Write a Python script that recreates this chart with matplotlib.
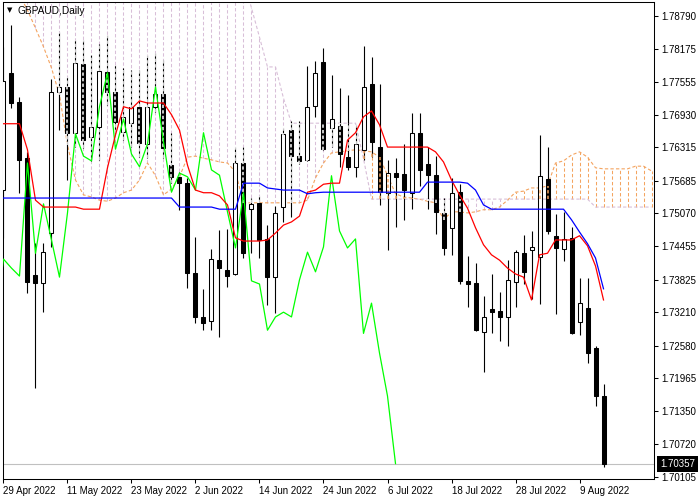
import matplotlib
matplotlib.use('Agg')
import matplotlib.pyplot as plt
import numpy as np

plt.rcParams['font.family'] = ['Liberation Sans', 'DejaVu Sans']
plt.rcParams['lines.scale_dashes'] = False

# GBPAUD daily, 29 Apr 2022 .. 12 Aug 2022 (one entry per trading day)
opens = [1.7551, 1.7772, 1.7717, 1.7611, 1.7391, 1.7376, 1.7470, 1.7736, 1.7745, 1.7659,
         1.7789, 1.7651, 1.7670, 1.7773, 1.7736, 1.7660, 1.7677, 1.7708, 1.7638, 1.7708,
         1.7732, 1.7598, 1.7576, 1.7564, 1.7395, 1.7312, 1.7304, 1.7419, 1.7400, 1.7393,
         1.7602, 1.7515, 1.7527, 1.7459, 1.7387, 1.7519, 1.7664, 1.7615, 1.7608, 1.7709,
         1.7792, 1.7668, 1.7672, 1.7613, 1.7595, 1.7627, 1.7751, 1.7632, 1.7546, 1.7583,
         1.7581, 1.7546, 1.7659, 1.7600, 1.7579, 1.7508, 1.7480, 1.7547, 1.7380, 1.7376,
         1.7283, 1.7327, 1.7323, 1.7312, 1.7378, 1.7432, 1.7438, 1.7425, 1.7572, 1.7465,
         1.7440, 1.7461, 1.7302, 1.7329, 1.7254, 1.7163]
highs = [1.7821, 1.7862, 1.7726, 1.7623, 1.7451, 1.7451, 1.7760, 1.7849, 1.7764, 1.7834,
         1.7834, 1.7806, 1.7826, 1.7843, 1.7787, 1.7781, 1.7777, 1.7777, 1.7806, 1.7809,
         1.7796, 1.7659, 1.7585, 1.7574, 1.7463, 1.7365, 1.7440, 1.7476, 1.7478, 1.7632,
         1.7632, 1.7536, 1.7540, 1.7485, 1.7521, 1.7668, 1.7681, 1.7681, 1.7785, 1.7794,
         1.7819, 1.7768, 1.7743, 1.7730, 1.7674, 1.7822, 1.7802, 1.7751, 1.7608, 1.7611,
         1.7638, 1.7696, 1.7696, 1.7632, 1.7615, 1.7536, 1.7574, 1.7562, 1.7427, 1.7414,
         1.7352, 1.7393, 1.7359, 1.7419, 1.7438, 1.7466, 1.7474, 1.7655, 1.7632, 1.7506,
         1.7510, 1.7481, 1.7385, 1.7385, 1.7257, 1.7186]
lows = [1.7461, 1.7706, 1.7546, 1.7357, 1.7178, 1.7321, 1.7444, 1.7664, 1.7570, 1.7632,
        1.7630, 1.7606, 1.7608, 1.7711, 1.7659, 1.7645, 1.7632, 1.7613, 1.7611, 1.7698,
        1.7611, 1.7564, 1.7514, 1.7367, 1.7301, 1.7287, 1.7287, 1.7274, 1.7368, 1.7391,
        1.7423, 1.7432, 1.7423, 1.7335, 1.7319, 1.7491, 1.7500, 1.7600, 1.7606, 1.7689,
        1.7627, 1.7632, 1.7595, 1.7589, 1.7576, 1.7608, 1.7613, 1.7523, 1.7438, 1.7481,
        1.7495, 1.7515, 1.7559, 1.7515, 1.7468, 1.7429, 1.7429, 1.7374, 1.7331, 1.7285,
        1.7208, 1.7282, 1.7267, 1.7257, 1.7331, 1.7374, 1.7346, 1.7336, 1.7468, 1.7318,
        1.7417, 1.7280, 1.7278, 1.7225, 1.7144, 1.7029]
closes = [1.7757, 1.7715, 1.7608, 1.7378, 1.7376, 1.7434, 1.7736, 1.7745, 1.7659, 1.7790,
          1.7645, 1.7670, 1.7775, 1.7736, 1.7679, 1.7689, 1.7708, 1.7640, 1.7708, 1.7732,
          1.7630, 1.7576, 1.7564, 1.7395, 1.7312, 1.7301, 1.7421, 1.7404, 1.7389, 1.7602,
          1.7432, 1.7525, 1.7457, 1.7387, 1.7508, 1.7657, 1.7615, 1.7606, 1.7708, 1.7772,
          1.7628, 1.7685, 1.7619, 1.7595, 1.7638, 1.7745, 1.7642, 1.7547, 1.7583, 1.7576,
          1.7551, 1.7659, 1.7589, 1.7579, 1.7510, 1.7442, 1.7546, 1.7380, 1.7374, 1.7287,
          1.7312, 1.7321, 1.7312, 1.7382, 1.7434, 1.7397, 1.7444, 1.7578, 1.7474, 1.7442,
          1.7459, 1.7281, 1.7338, 1.7244, 1.7163, 1.70357]

tenkan = [1.7676, 1.7676, 1.7676, 1.7627, 1.7532, 1.7519, 1.7519, 1.7519, 1.7519, 1.7519,
          1.7515, 1.7515, 1.7515, 1.7593, 1.7655, 1.7708, 1.7704, 1.7719, 1.7715, 1.7715,
          1.7715, 1.7693, 1.7664, 1.7598, 1.7551, 1.7546, 1.7546, 1.7540, 1.7523, 1.7461,
          1.7455, 1.7455, 1.7455, 1.7457, 1.7470, 1.7485, 1.7491, 1.7502, 1.7547, 1.7551,
          1.7562, 1.7564, 1.7564, 1.7645, 1.7659, 1.7689, 1.7700, 1.7674, 1.7632, 1.7632,
          1.7632, 1.7632, 1.7632, 1.7632, 1.7623, 1.7604, 1.7570, 1.7542, 1.7517, 1.7480,
          1.7448, 1.7429, 1.7419, 1.7404, 1.7393, 1.7387, 1.7344, 1.7429, 1.7432, 1.7457,
          1.7457, 1.7457, 1.7465, 1.7446, 1.7408, 1.7344]
kijun = [1.7536, 1.7536, 1.7536, 1.7536, 1.7536, 1.7536, 1.7536, 1.7536, 1.7536, 1.7536,
         1.7536, 1.7536, 1.7536, 1.7536, 1.7536, 1.7536, 1.7536, 1.7536, 1.7536, 1.7536,
         1.7536, 1.7536, 1.7519, 1.7519, 1.7519, 1.7519, 1.7519, 1.7515, 1.7515, 1.7515,
         1.7564, 1.7564, 1.7564, 1.7555, 1.7553, 1.7551, 1.7551, 1.7551, 1.7544, 1.7546,
         1.7547, 1.7547, 1.7547, 1.7547, 1.7547, 1.7547, 1.7547, 1.7547, 1.7547, 1.7547,
         1.7547, 1.7547, 1.7547, 1.7566, 1.7566, 1.7566, 1.7566, 1.7566, 1.7564, 1.7551,
         1.7523, 1.7515, 1.7515, 1.7515, 1.7515, 1.7515, 1.7515, 1.7515, 1.7515, 1.7515,
         1.7515, 1.7495, 1.7472, 1.7450, 1.7423, 1.7365]
# senkou spans, already shifted forward (cut at the right edge of the chart)
span_a = [1.7985, 1.7947, 1.7919, 1.7890, 1.7856, 1.7821, 1.7781, 1.7730, 1.7636, 1.7570,
          1.7542, 1.7538, 1.7532, 1.7530, 1.7536, 1.7546, 1.7551, 1.7570, 1.7602, 1.7578,
          1.7542, 1.7553, 1.7576, 1.7613, 1.7615, 1.7611, 1.7608, 1.7604, 1.7602, 1.7585,
          1.7527, 1.7527, 1.7527, 1.7527, 1.7527, 1.7527, 1.7527, 1.7527, 1.7532, 1.7574,
          1.7602, 1.7621, 1.7623, 1.7625, 1.7627, 1.7625, 1.7623, 1.7613, 1.7579, 1.7544,
          1.7538, 1.7536, 1.7534, 1.7530, 1.7527, 1.7495, 1.7510, 1.7510, 1.7508, 1.7510,
          1.7514, 1.7514, 1.7519, 1.7532, 1.7547, 1.7549, 1.7555, 1.7555, 1.7559, 1.7602,
          1.7606, 1.7617, 1.7623, 1.7613, 1.7593, 1.7591, 1.7591, 1.7591, 1.7591, 1.7596,
          1.7596, 1.7587]
span_b = [1.7950, 1.7950, 1.7950, 1.7950, 1.7950, 1.7950, 1.7950, 1.7950, 1.7950, 1.7950,
          1.7950, 1.7950, 1.7950, 1.7950, 1.7950, 1.7950, 1.7950, 1.7950, 1.7950, 1.7950,
          1.7950, 1.7950, 1.7950, 1.7950, 1.7950, 1.7950, 1.7950, 1.7950, 1.7950, 1.7950,
          1.7950, 1.7894, 1.7839, 1.7783, 1.7783, 1.7724, 1.7677, 1.7677, 1.7677, 1.7677,
          1.7677, 1.7677, 1.7677, 1.7677, 1.7677, 1.7610, 1.7534, 1.7534, 1.7534, 1.7534,
          1.7534, 1.7534, 1.7534, 1.7534, 1.7534, 1.7534, 1.7534, 1.7534, 1.7534, 1.7534,
          1.7534, 1.7534, 1.7534, 1.7534, 1.7534, 1.7534, 1.7534, 1.7534, 1.7534, 1.7534,
          1.7534, 1.7534, 1.7534, 1.7534, 1.7519, 1.7519, 1.7519, 1.7519, 1.7519, 1.7519,
          1.7519, 1.7519]

date_labels = ['29 Apr 2022', '11 May 2022', '23 May 2022', '2 Jun 2022', '14 Jun 2022',
               '24 Jun 2022', '6 Jul 2022', '18 Jul 2022', '28 Jul 2022', '9 Aug 2022']
price_ticks = [1.78790, 1.78175, 1.77555, 1.76930, 1.76315, 1.75685, 1.75070, 1.74455,
               1.73825, 1.73210, 1.72580, 1.71965, 1.71350, 1.70720, 1.70105]
last_price = 1.70357
chikou_shift = 26

o = np.array(opens); h = np.array(highs); l = np.array(lows); c = np.array(closes)
n = len(c)
idx = np.arange(n)
a = np.array(span_a); b = np.array(span_b)
cidx = np.arange(len(a))
up = a > b

ORANGE = '#f4a460'
THISTLE = '#d8bfd8'
dash = (0, (2.4, 1.6))

fig = plt.figure(figsize=(7, 5), dpi=100)
ax = fig.add_axes([3/700, 21/500, 651/700, 477/500])

ax.axhline(last_price, color='#c0c0c0', lw=0.8, zorder=0.5)

# kumo hatching
ax.vlines(cidx[up], b[up], a[up], colors=ORANGE, linestyles=dash, lw=0.75, zorder=1)
ax.vlines(cidx[~up], a[~up], b[~up], colors=THISTLE, linestyles=dash, lw=0.75, zorder=1)
ax.plot(cidx, a, color=ORANGE, lw=0.8, ls=dash, zorder=2)
ax.plot(cidx, b, color=THISTLE, lw=0.8, ls=dash, zorder=2)

# candles
bull = c >= o
ax.vlines(idx, l, h, color='black', lw=0.8, zorder=3)
ax.bar(idx[bull], (c - o)[bull], bottom=o[bull], width=0.5, color='white',
       edgecolor='black', lw=0.75, zorder=4)
ax.bar(idx[~bull], (o - c)[~bull], bottom=c[~bull], width=0.5, color='black',
       edgecolor='black', lw=0.75, zorder=4)

# hatch drawn over the candle where it sits inside the cloud
lo_c = np.minimum(a[:n], b[:n]); hi_c = np.maximum(a[:n], b[:n])
seg_lo = np.maximum(l, lo_c); seg_hi = np.minimum(h, hi_c)
m = seg_hi > seg_lo
ov_col = np.where(up[:n], ORANGE, 'white')
ax.vlines(idx[m], seg_lo[m], seg_hi[m], colors=list(ov_col[m]), linestyles=dash,
          lw=1.1, zorder=5)

# ichimoku lines
ax.plot(idx - chikou_shift, c, color='#00ff00', lw=0.9, zorder=6)
ax.plot(idx, tenkan, color='red', lw=0.9, zorder=6)
ax.plot(idx, kijun, color='blue', lw=0.9, zorder=6)

ax.set_xlim(-0.06, 81.31)
ax.set_ylim(1.70067, 1.79053)
ax.set_xticks(range(0, 8 * len(date_labels), 8))
ax.set_xticklabels(date_labels, ha='left', fontsize=7)
ax.yaxis.tick_right()
ax.set_yticks(price_ticks)
ax.set_yticklabels(['%.5f' % p for p in price_ticks], fontsize=7)
ax.tick_params(axis='x', direction='out', length=3, width=0.75, pad=2)
ax.tick_params(axis='y', direction='out', length=3, width=0.75, pad=2)
for s in ax.spines.values():
    s.set_linewidth(0.75)

ax.annotate('%.5f' % last_price, xy=(1, last_price), xycoords=('axes fraction', 'data'),
            xytext=(6, 0), textcoords='offset pixels', ha='left', va='center',
            color='white', fontsize=7,
            bbox=dict(boxstyle='square,pad=0.3', fc='black', ec='none'))

fig.text(7/700, 1 - 10.5/500, '\u25bc', fontsize=5, family=['DejaVu Sans'], va='center')
fig.text(17/700, 1 - 11/500, 'GBPAUD,Daily', fontsize=7.3, va='center')

fig.savefig('out.png', dpi=100)
